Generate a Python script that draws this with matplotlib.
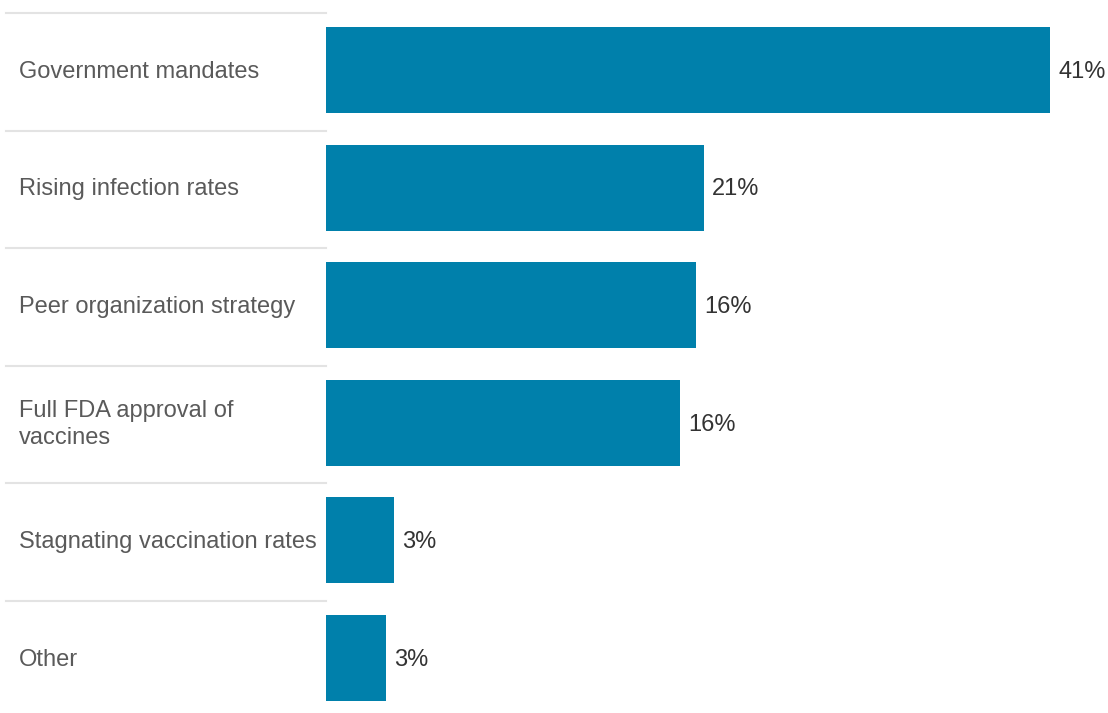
import matplotlib.pyplot as plt
from matplotlib.transforms import blended_transform_factory

# data
categories = [
    "Government mandates",
    "Rising infection rates",
    "Peer organization strategy",
    "Full FDA approval of\nvaccines",
    "Stagnating vaccination rates",
    "Other",
]
bar_values = [41.0, 21.4, 20.95, 20.05, 3.85, 3.4]
value_labels = ["41%", "21%", "16%", "16%", "3%", "3%"]

bar_color = "#0080AB"
label_color = "#5a5a5a"
value_color = "#333333"
sep_color = "#e3e3e3"

plt.rcParams['font.family'] = ['Liberation Sans', 'DejaVu Sans']

W, H = 1108, 713
fig = plt.figure(figsize=(W / 100, H / 100), dpi=100)
left = 326 / W
ax = fig.add_axes([left, 0, 1 - left, 1])

px_per_unit = 724 / 41.0
ax.set_xlim(0, (W - 326) / px_per_unit)
row_h = 117.6
ax.set_ylim((H - 70) / row_h, -70 / row_h)

ypos = list(range(len(categories)))
ax.barh(ypos, bar_values, height=0.73, color=bar_color)

for i, (v, lab) in enumerate(zip(bar_values, value_labels)):
    ax.annotate(lab, (v, i + 0.015), xytext=(6, 0), textcoords='offset points',
                va='center', ha='left', fontsize=17, color=value_color)

# category labels and separators on the left
tr = blended_transform_factory(fig.transFigure, ax.transData)
sep_off = 57 / row_h
for i, cat in enumerate(categories):
    ax.text(19 / W, i + 0.015, cat, transform=tr, ha='left', va='center',
            fontsize=17, color=label_color, linespacing=1.3)
    ax.plot([6 / W, 326 / W], [i - sep_off, i - sep_off], transform=tr,
            color=sep_color, lw=1.5, clip_on=False)

ax.axis('off')
fig.savefig("out.png", dpi=100)
